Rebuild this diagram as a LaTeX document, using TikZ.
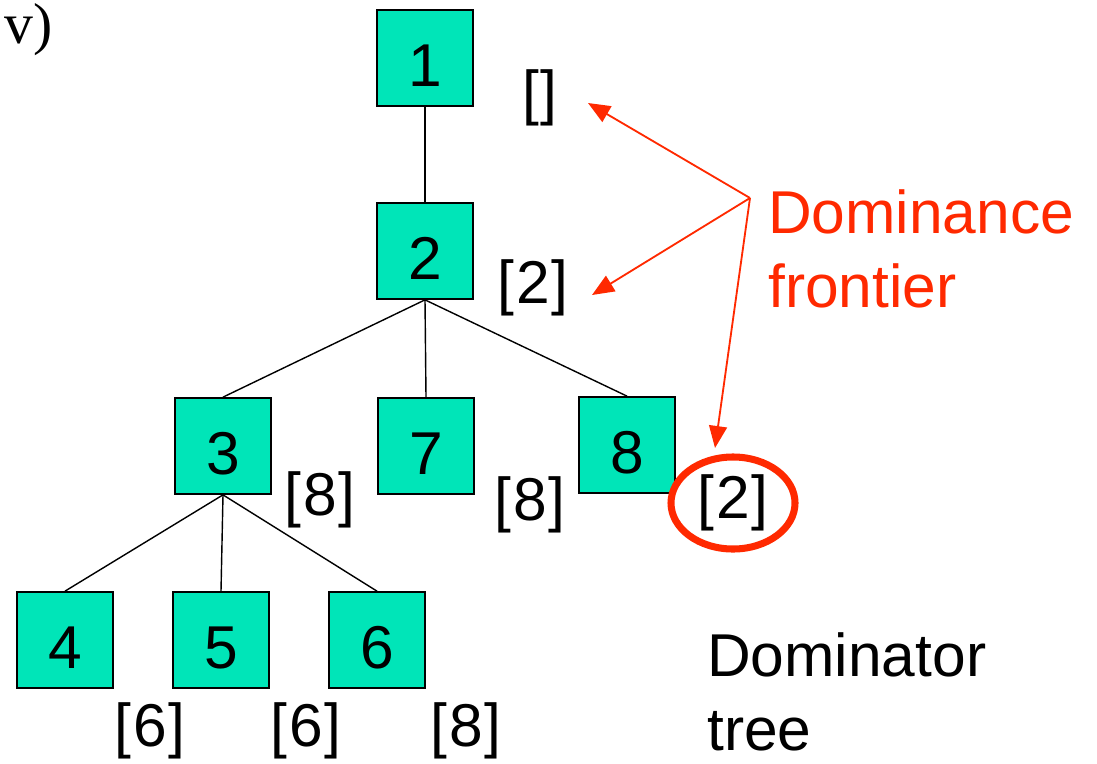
\documentclass[tikz,border=0pt]{standalone}
\usepackage{fontspec}
\setmainfont{Liberation Sans}
\newfontfamily\romanfont{Liberation Serif}
\usepackage{tikz}
\usetikzlibrary{arrows.meta,calc}
\definecolor{boxteal}{RGB}{0,229,184}
\definecolor{frontred}{RGB}{255,41,0}

\begin{document}
\begin{tikzpicture}[
  x=0.025cm, y=-0.025cm,
  box/.style={draw=black, line width=1.2pt, fill=boxteal, rectangle, minimum size=2.4cm, inner sep=0pt, font=\fontsize{43}{52}\selectfont, text height=40pt, text depth=0pt},
  lab/.style={inner sep=0pt, font=\fontsize{43}{52}\selectfont},
  txt/.style={inner sep=0pt, anchor=base west, align=left, font=\fontsize{43}{52}\selectfont},
  edge/.style={line width=1pt},
  arr/.style={draw=frontred, line width=1.3pt, -{Triangle[length=0.55cm, width=0.45cm]}}
]
\useasboundingbox (0,0) rectangle (1097,763);
\node[anchor=base west, inner sep=0pt, font=\romanfont\fontsize{41}{50}\selectfont] (tag) at (4,44) {v)};
% dominator tree
\node[box] (b1) at (425,58) {1};
\node[box] (b2) at (425,251) {2};
\node[box] (b3) at (223,446) {3};
\node[box] (b7) at (426,446) {7};
\node[box] (b8) at (627,445) {8};
\node[box] (b4) at (65,640) {4};
\node[box] (b5) at (221,640) {5};
\node[box] (b6) at (377,640) {6};
\draw[edge] (b1) -- (b2); \draw[edge] (b2.south) -- (b3.north); \draw[edge] (b2.south) -- (b7.north); \draw[edge] (b2.south) -- (b8.north);
\draw[edge] (b3.south) -- (b4.north); \draw[edge] (b3.south) -- (b5.north); \draw[edge] (b3.south) -- (b6.north);
% frontier sets
\node[lab] (f1) at (540,98) {[\kern1pt]};
\node[lab] (f2) at (533,288) {[\kern1pt2\kern1pt]};
\node[lab] (f3) at (320,500) {[\kern1pt8\kern1pt]};
\node[lab] (f7) at (530,505) {[\kern1pt8\kern1pt]};
\node[lab] (f8) at (733,503) {[\kern1pt2\kern1pt]};
\node[lab] (f4) at (150,731) {[\kern1pt6\kern1pt]};
\node[lab] (f5) at (306,731) {[\kern1pt6\kern1pt]};
\node[lab] (f6) at (466,731) {[\kern1pt8\kern1pt]};
\draw[frontred, line width=5pt] (f8.center) ellipse [x radius=1.55cm, y radius=1.15cm];
% captions (anchored on the last line)
\node[txt, text=frontred] (df) at (768,307) {Dominance\\frontier};
\node[txt] (dt) at (707,750) {Dominator\\tree};
\coordinate (fork) at (750,198);
\draw[arr] (fork) -- ($(f1.center)+(48,5)$); \draw[arr] (fork) -- ($(f2.center)+(59,7)$); \draw[arr] (fork) -- ($(f8.center)+(-18,-55)$);
\end{tikzpicture}
\end{document}
